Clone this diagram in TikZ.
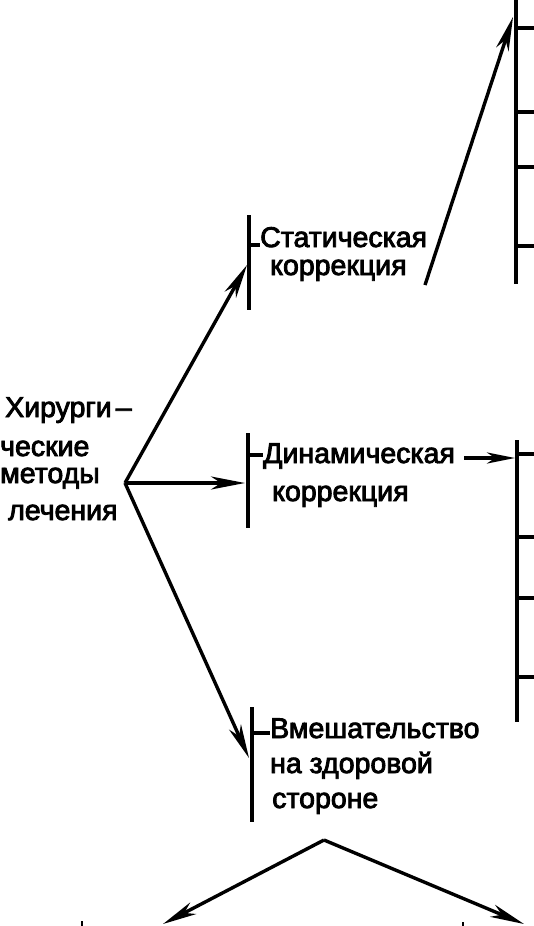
\documentclass[tikz,border=0pt]{standalone}
\usepackage{fontspec}
\setmainfont{Liberation Sans}
\newfontfamily\labfont{Liberation Sans}[FakeBold=3]
\usetikzlibrary{arrows.meta}
\begin{document}
\begin{tikzpicture}[x=1pt,y=-1pt,
  lab/.style={font=\labfont\fontsize{28.5}{31}\selectfont, inner sep=0pt, anchor=base west},
  bar/.style={line width=4.2pt},
  tick/.style={line width=3.2pt},
  arr/.style={line width=3.4pt, -{Stealth[length=34pt,width=13pt,inset=10pt]}},
  arrs/.style={line width=3.4pt, -{Stealth[length=28pt,width=11pt,inset=8pt]}}]
\useasboundingbox (0,0) rectangle (534,926);
% left text
\node[lab] (t1) at (5,417) {Хирурги\kern4pt–};
\node[lab, text height=15pt, text depth=0pt] (t2) at (0,456) {ческие};
\node[lab, text height=15pt, text depth=3pt] (t3) at (0,483) {методы};
\node[lab] (t4) at (8,520) {лечения};
% static
\node[lab] (s1) at (260,247) {Статическая};
\node[lab] (s2) at (270,275) {коррекция};
% dynamic
\node[lab] (d1) at (263,463) {Динамическая};
\node[lab] (d2) at (272,501) {коррекция};
% intervention
\node[lab] (v1) at (270,738) {Вмешательство};
\node[lab] (v2) at (270,773) {на здоровой};
\node[lab] (v3) at (272,808) {стороне};
% coordinates
\coordinate (hub) at (125,483);
\coordinate (sT) at (249,215); \coordinate (sB) at (249,310);
\coordinate (dT) at (248,433); \coordinate (dB) at (248,528);
\coordinate (vT) at (252,707); \coordinate (vB) at (252,822);
\coordinate (r1T) at (516,-2); \coordinate (r1B) at (516,284);
\coordinate (r2T) at (517,440); \coordinate (r2B) at (517,722);
\coordinate (sA) at (247,265);
\coordinate (dA) at (245,483);
\coordinate (vA) at (249,758);
\coordinate (up0) at (425,285); \coordinate (up1) at (513,17);
\coordinate (dy0) at (464,458); \coordinate (dy1) at (515,458);
\coordinate (peak) at (324,840);
\coordinate (bl) at (163,924); \coordinate (br) at (524,924);
% bars
\draw[bar] (sT) -- (sB);
\draw[bar] (dT) -- (dB);
\draw[bar] (vT) -- (vB);
\draw[bar] (r1T) -- (r1B);
\draw[bar] (r2T) -- (r2B);
% ticks
\draw[tick] (249,245) -- (s1.base west |- 0,245);
\draw[tick] (248,455) -- (d1.base west |- 0,455);
\draw[tick] (252,733) -- (v1.base west |- 0,733);
\foreach \y in {28,112,167,246} \draw[tick] (516,\y) -- (534,\y);
\foreach \y in {454,537,598,677} \draw[tick] (517,\y) -- (534,\y);
% arrows
\draw[arr] (hub) -- (sA);
\draw[arr] (hub) -- (dA);
\draw[arr] (hub) -- (vA);
\draw[arr] (up0) -- (up1);
\draw[arrs] (dy0) -- (dy1);
\draw[arr] (peak) -- (bl);
\draw[arr] (peak) -- (br);
% small marks at bottom edge
\draw[line width=2.5pt] (82,921) -- (82,927);
\draw[line width=2.5pt] (463,922) -- (463,927);
\end{tikzpicture}
\end{document}
